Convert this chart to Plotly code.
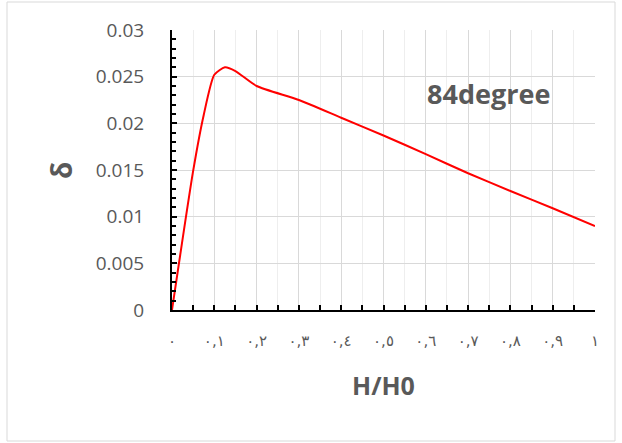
import plotly.graph_objects as go

# ---- data ----
h_ratio = [0.0, 0.05, 0.075, 0.1, 0.125, 0.15, 0.2, 0.3, 0.4, 0.5, 0.6, 0.7, 0.8, 0.9, 1.0]
delta = [0.0, 0.0149, 0.0209, 0.0252, 0.0260, 0.0256, 0.0240, 0.0225, 0.0206, 0.0187,
         0.0167, 0.01465, 0.01275, 0.0109, 0.0090]
x_tick_vals = [0.0, 0.1, 0.2, 0.3, 0.4, 0.5, 0.6, 0.7, 0.8, 0.9, 1.0]
x_tick_text = ["٠", "٠,١", "٠,٢", "٠,٣", "٠,٤", "٠,٥", "٠,٦", "٠,٧", "٠,٨", "٠,٩", "١"]
y_tick_vals = [0, 0.005, 0.01, 0.015, 0.02, 0.025, 0.03]
y_tick_text = ["0", "0.005", "0.01", "0.015", "0.02", "0.025", "0.03"]

W, H = 622, 443
L, R, T, B = 172, 595, 30, 310


def px(x):
    return (x - L) / (R - L)


def py(y):
    return (B - y) / (B - T)


fig = go.Figure()
fig.add_trace(go.Scatter(
    x=h_ratio, y=delta, mode="lines",
    line=dict(color="#ff0000", width=2, shape="spline", smoothing=0.6),
    hoverinfo="skip", showlegend=False,
))

gray = "#595959"
fig.update_layout(
    width=W, height=H,
    margin=dict(l=L, r=W - R, t=T, b=H - B, pad=0),
    paper_bgcolor="white", plot_bgcolor="white",
    showlegend=False,
    xaxis=dict(
        range=[0, 1], tickmode="array", tickvals=x_tick_vals, ticktext=x_tick_text,
        tickfont=dict(family="DejaVu Sans", size=15, color=gray),
        ticks="inside", ticklen=5, tickwidth=1.5, tickcolor="black",
        showline=True, linecolor="black", linewidth=2,
        showgrid=True, gridcolor="#d9d9d9", gridwidth=1,
        zeroline=False, ticklabelstandoff=16,
        minor=dict(dtick=0.05, tick0=0, ticks="inside", ticklen=5, tickwidth=1.5,
                   tickcolor="black", showgrid=True, gridcolor="#eeeeee", gridwidth=1),
        fixedrange=True,
    ),
    yaxis=dict(
        range=[0, 0.03], tickmode="array", tickvals=y_tick_vals, ticktext=y_tick_text,
        tickfont=dict(family="Open Sans", size=19, color=gray),
        ticks="inside", ticklen=5, tickwidth=1.5, tickcolor="black",
        showline=True, linecolor="black", linewidth=2,
        showgrid=True, gridcolor="#d9d9d9", gridwidth=1,
        zeroline=False, ticklabelstandoff=22,
        minor=dict(dtick=0.001, tick0=0, ticks="inside", ticklen=4, tickwidth=1.5,
                   tickcolor="black", showgrid=False),
        fixedrange=True,
    ),
    shapes=[dict(type="rect", xref="paper", yref="paper",
                 x0=px(7), x1=px(615), y0=py(441), y1=py(2),
                 line=dict(color="#d9d9d9", width=1), fillcolor="rgba(0,0,0,0)",
                 layer="below")],
    annotations=[
        dict(text="<b>84degree</b>", xref="paper", yref="paper", x=px(488), y=py(93),
             xanchor="center", yanchor="middle", showarrow=False,
             font=dict(family="Open Sans", size=27, color=gray)),
        dict(text="<b>H/H0</b>", xref="paper", yref="paper", x=px(383), y=py(385),
             xanchor="center", yanchor="middle", showarrow=False,
             font=dict(family="Open Sans", size=25, color=gray)),
        dict(text="<b>δ</b>", xref="paper", yref="paper", x=px(61), y=py(171),
             xanchor="center", yanchor="middle", showarrow=False, textangle=-90,
             font=dict(family="Open Sans", size=28, color=gray)),
    ],
)

fig.write_html("out.html", config={"displayModeBar": False},
               post_script="document.body.style.margin='0';")
